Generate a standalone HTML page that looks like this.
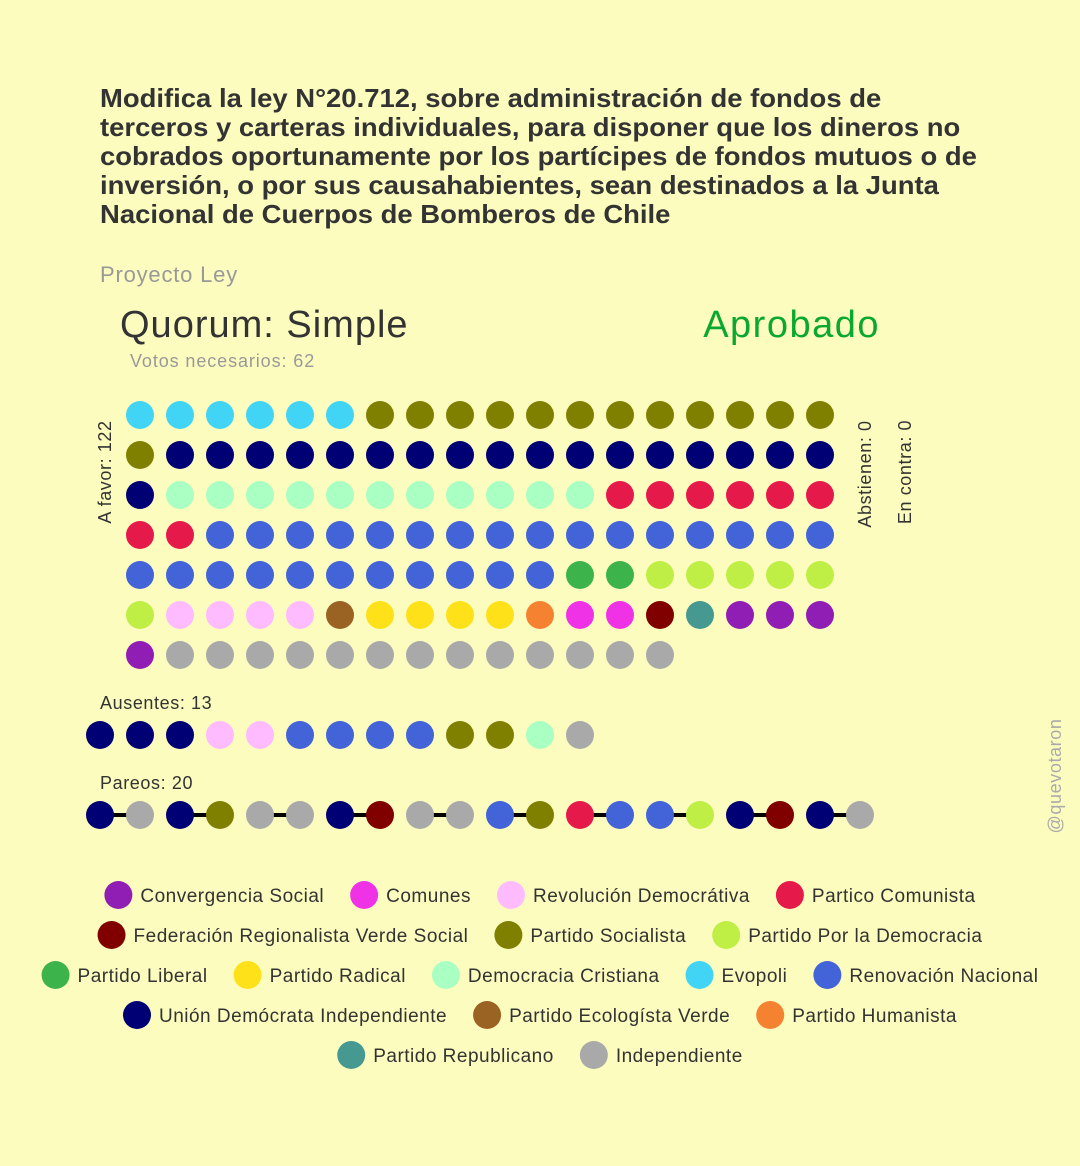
<!DOCTYPE html>
<html><head><meta charset="utf-8"><style>
body{margin:0;background:#FCFCBF;font-family:"Liberation Sans",sans-serif;}
svg{display:block}
</style></head><body>
<svg id="chart" width="1080" height="1166" viewBox="0 0 1080 1166" xmlns="http://www.w3.org/2000/svg">
<rect width="1080" height="1166" fill="#FCFCBF"/>
<g font-weight="bold" font-size="25.5" fill="#333" transform="translate(100,0) scale(1.077,1)">
<text x="0" y="107">Modifica la ley N°20.712, sobre administración de fondos de</text>
<text x="0" y="136">terceros y carteras individuales, para disponer que los dineros no</text>
<text x="0" y="165">cobrados oportunamente por los partícipes de fondos mutuos o de</text>
<text x="0" y="194">inversión, o por sus causahabientes, sean destinados a la Junta</text>
<text x="0" y="223">Nacional de Cuerpos de Bomberos de Chile</text>
</g>
<text x="100" y="282" font-size="22" fill="#999" letter-spacing="0.8">Proyecto Ley</text>
<text x="120" y="337" font-size="38" fill="#333" letter-spacing="1">Quorum: Simple</text>
<text x="880" y="337" font-size="38" fill="#0BA82F" text-anchor="end" letter-spacing="1.5">Aprobado</text>
<text x="130" y="367" font-size="18" fill="#999" letter-spacing="0.9">Votos necesarios: 62</text>
<text transform="translate(111,472) rotate(-90)" font-size="18" fill="#333" text-anchor="middle" letter-spacing="0.6">A favor: 122</text>
<text transform="translate(871,474) rotate(-90)" font-size="18" fill="#333" text-anchor="middle" letter-spacing="0.6">Abstienen: 0</text>
<text transform="translate(911,472) rotate(-90)" font-size="18" fill="#333" text-anchor="middle" letter-spacing="0.6">En contra: 0</text>
<text x="100" y="709" font-size="18" fill="#333" letter-spacing="0.6">Ausentes: 13</text>
<text x="100" y="789" font-size="18" fill="#333" letter-spacing="0.6">Pareos: 20</text>
<text transform="translate(1061,776) rotate(-90)" font-size="18" fill="#aaa" text-anchor="middle" letter-spacing="0.6">@quevotaron</text>
<g id="favor"></g><g id="absent"></g><g id="pairs"></g><g id="legend"></g>
</svg>
<script>
const partyColors = {"Convergencia Social":"#911EB4","Comunes":"#F032E6","Revolución Democrátiva":"#FFBBFF","Partico Comunista":"#E6194B","Federación Regionalista Verde Social":"#800000","Partido Socialista":"#808000","Partido Por la Democracia":"#BFEF45","Partido Liberal":"#3CB44B","Partido Radical":"#FFE119","Democracia Cristiana":"#AAFFC3","Evopoli":"#42D4F4","Renovación Nacional":"#4363D8","Unión Demócrata Independiente":"#000075","Partido Ecologísta Verde":"#9A6324","Partido Humanista":"#F58231","Partido Republicano":"#469990","Independiente":"#A9A9A9"};
const favorParties = ["Evopoli","Partido Socialista","Unión Demócrata Independiente","Democracia Cristiana","Partico Comunista","Renovación Nacional","Partido Liberal","Partido Por la Democracia","Revolución Democrátiva","Partido Ecologísta Verde","Partido Radical","Partido Humanista","Comunes","Federación Regionalista Verde Social","Partido Republicano","Convergencia Social","Independiente"];
const favorCounts = [6,13,18,11,8,27,2,6,4,1,4,1,2,1,1,4,13];
const absentParties = ["Unión Demócrata Independiente","Unión Demócrata Independiente","Unión Demócrata Independiente","Revolución Democrátiva","Revolución Democrátiva","Renovación Nacional","Renovación Nacional","Renovación Nacional","Renovación Nacional","Partido Socialista","Partido Socialista","Democracia Cristiana","Independiente"];
const pairParties = ["Unión Demócrata Independiente","Independiente","Unión Demócrata Independiente","Partido Socialista","Independiente","Independiente","Unión Demócrata Independiente","Federación Regionalista Verde Social","Independiente","Independiente","Renovación Nacional","Partido Socialista","Partico Comunista","Renovación Nacional","Renovación Nacional","Partido Por la Democracia","Unión Demócrata Independiente","Federación Regionalista Verde Social","Unión Demócrata Independiente","Independiente"];
const legendRows = [["Convergencia Social","Comunes","Revolución Democrátiva","Partico Comunista"],["Federación Regionalista Verde Social","Partido Socialista","Partido Por la Democracia"],["Partido Liberal","Partido Radical","Democracia Cristiana","Evopoli","Renovación Nacional"],["Unión Demócrata Independiente","Partido Ecologísta Verde","Partido Humanista"],["Partido Republicano","Independiente"]];
const NS="http://www.w3.org/2000/svg";
function circ(g,x,y,c){const e=document.createElementNS(NS,"circle");e.setAttribute("cx",x);e.setAttribute("cy",y);e.setAttribute("r",14);e.setAttribute("fill",c);


g.appendChild(e);return e;}
const fx=i=>140+(i%18)*40, fy=i=>415+Math.floor(i/18)*40;
let k=0;const gf=document.getElementById("favor");
favorParties.forEach((p,j)=>{for(let n=0;n<favorCounts[j];n++){circ(gf,fx(k),fy(k),partyColors[p]);k++;}});
const ga=document.getElementById("absent");
absentParties.forEach((p,i)=>circ(ga,100+i*40,735,partyColors[p]));
const gp=document.getElementById("pairs");
for(let i=0;i<pairParties.length;i+=2){const l=document.createElementNS(NS,"line");l.setAttribute("x1",100+i*40);l.setAttribute("x2",140+i*40);l.setAttribute("y1",815);l.setAttribute("y2",815);l.setAttribute("stroke","#000");l.setAttribute("stroke-width",4);


gp.appendChild(l);}
pairParties.forEach((p,i)=>circ(gp,100+i*40,815,partyColors[p]));
const gl=document.getElementById("legend");
const meas=document.createElementNS(NS,"text");meas.setAttribute("font-size","19");meas.setAttribute("letter-spacing","0.5");gl.appendChild(meas);
legendRows.forEach((row,r)=>{
  const y=895+r*40;const widths=row.map(p=>{meas.textContent=p;return meas.getComputedTextLength();});
  const gap=26, itemW=widths.map(w=>36+w);const total=itemW.reduce((a,b)=>a+b,0)+gap*(row.length-1);
  let x=540-total/2;
  row.forEach((p,i)=>{const g=document.createElementNS(NS,"g");
    
    
    gl.appendChild(g);circ(g,x+14,y,partyColors[p]);
    const t=document.createElementNS(NS,"text");t.setAttribute("x",x+36);t.setAttribute("y",y+7);t.setAttribute("font-size","19");t.setAttribute("letter-spacing","0.5");t.setAttribute("fill","#333");t.textContent=p;g.appendChild(t);
    x+=itemW[i]+gap;});
});
gl.removeChild(meas);
</script>
</body></html>
